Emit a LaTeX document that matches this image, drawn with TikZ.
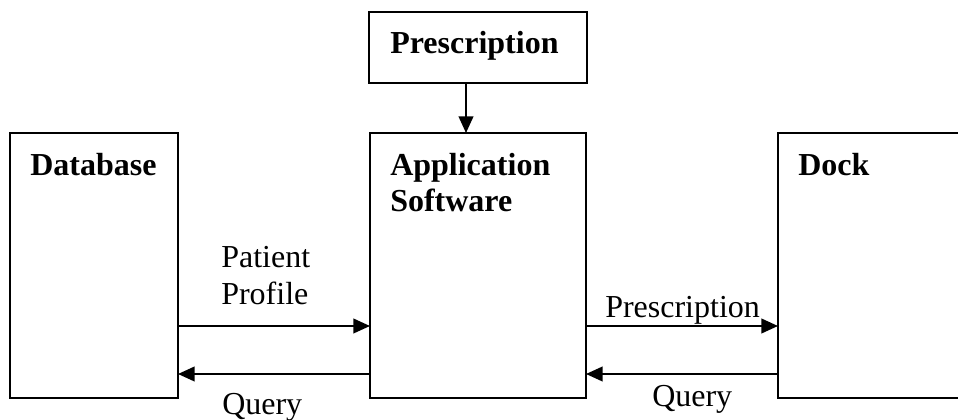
\documentclass[tikz,border=0pt]{standalone}
\usepackage{fontspec}
\setmainfont{Liberation Serif}
\usetikzlibrary{arrows.meta}
\begin{document}
\begin{tikzpicture}[x=0.75pt,y=-0.75pt,
  box/.style={draw,line width=1.5pt,anchor=north west,inner sep=0pt,outer sep=0pt},
  lbl/.style={anchor=base west,inner sep=0pt,font=\fontsize{24}{29}\selectfont},
  blbl/.style={lbl,font=\fontsize{24}{29}\selectfont\bfseries},
  conn/.style={line width=1.5pt,-{Triangle[length=12.5pt,width=11pt]}}]
\useasboundingbox (0,0) rectangle (958,420);
\clip (0,0) rectangle (958,420);
\node[box,minimum width=218*0.75pt,minimum height=71*0.75pt] (pres) at (369,12) {};
\node[box,minimum width=216*0.75pt,minimum height=265*0.75pt] (app) at (370,133) {};
\node[box,minimum width=168*0.75pt,minimum height=265*0.75pt] (db) at (10,133) {};
\node[box,minimum width=230*0.75pt,minimum height=265*0.75pt] (dock) at (778,133) {};
\node[blbl] (tpres) at (390,54) {Prescription};
\node[blbl] (tdb) at (30,176) {Database};
\node[blbl] (tapp1) at (390,176) {Application};
\node[blbl] (tapp2) at (390,212) {Software};
\node[blbl] (tdock) at (798,176) {Dock};
\node[lbl] (tpat1) at (221,268) {Patient};
\node[lbl] (tpat2) at (221,305) {Profile};
\node[lbl] (tq1) at (222,415) {Query};
\node[lbl] (tpr2) at (605,318) {Prescription};
\node[lbl] (tq2) at (652,407) {Query};
\coordinate (ax) at (466,0);
\coordinate (ya) at (0,326);
\coordinate (yb) at (0,374);
\draw[conn] (pres.south -| ax) -- (app.north -| ax);
\draw[conn] (db.east |- ya) -- (app.west |- ya);
\draw[conn] (app.west |- yb) -- (db.east |- yb);
\draw[conn] (app.east |- ya) -- (dock.west |- ya);
\draw[conn] (dock.west |- yb) -- (app.east |- yb);
\end{tikzpicture}
\end{document}
